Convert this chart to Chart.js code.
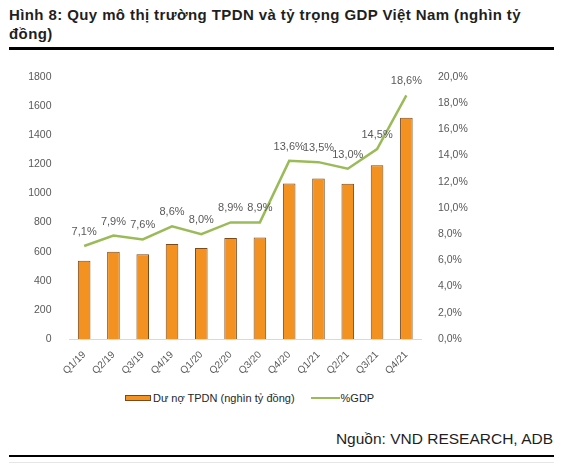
<!DOCTYPE html>
<html>
<head>
<meta charset="utf-8">
<script src="https://cdn.jsdelivr.net/npm/chart.js@4"></script>
<style>
  body { margin: 0; background: #fff; font-family: "Liberation Sans", Arial, sans-serif; }
  #page { position: relative; width: 565px; height: 469px; overflow: hidden; }
  #title { position: absolute; left: 9px; top: 6px; width: 550px; font-weight: bold; font-size: 15px; letter-spacing: 0.4px; line-height: 18.5px; color: #1f1f1f; }
  #rule1 { position: absolute; left: 9px; top: 47px; width: 545px; height: 3px; background: #000; }
  #box { position: absolute; left: 0; top: 55px; width: 565px; height: 330px; }
  #legend { position: absolute; top: 391px; left: 125px; height: 14px; font-size: 11px; color: #262626; display: flex; align-items: center; }
  .sw-bar { width: 24px; height: 4px; background: #f39220; border: 1px solid #7a4a1c; margin-right: 2px; }
  .sw-line { width: 29px; height: 2px; background: #9bbb59; margin-left: 16px; margin-right: 1px; }
  #source { position: absolute; right: 12px; top: 430px; font-size: 15.5px; color: #1f1f1f; }
  #rule2 { position: absolute; left: 9px; top: 455px; width: 545px; height: 1.5px; background: #000; }
  #rule3 { position: absolute; left: 9px; top: 462px; width: 545px; height: 1px; background: #e6e6e6; }
</style>
</head>
<body>
<div id="page">
  <div id="title">Hình 8: Quy mô thị trường TPDN và tỷ trọng GDP Việt Nam (nghìn tỷ<br>đồng)</div>
  <div id="rule1"></div>
  <div id="box"><canvas id="chart"></canvas></div>
  <div id="legend">
    <span class="sw-bar"></span><span>Dư nợ TPDN (nghìn tỷ đồng)</span>
    <span class="sw-line"></span><span>%GDP</span>
  </div>
  <div id="source">Nguồn: VND RESEARCH, ADB</div>
  <div id="rule2"></div>
  <div id="rule3"></div>
</div>
<script>
  'use strict'

  var quarters = ['Q1/19', 'Q2/19', 'Q3/19', 'Q4/19', 'Q1/20', 'Q2/20', 'Q3/20', 'Q4/20', 'Q1/21', 'Q2/21', 'Q3/21', 'Q4/21']
  var duNo = [538, 600, 582, 652, 625, 694, 698, 1069, 1103, 1067, 1193, 1520]
  var gdpPct = [7.1, 7.9, 7.6, 8.6, 8.0, 8.9, 8.9, 13.6, 13.5, 13.0, 14.5, 18.6]

  var grey = '#595959'
  var tickFont = { family: '"Liberation Sans", Arial, sans-serif', size: 10.5 }

  function pct (v, digits) {
    return v.toFixed(digits).replace('.', ',') + '%'
  }

  // labels over the %GDP line
  var lineLabels = {
    id: 'lineLabels',
    afterDatasetsDraw: function (chart) {
      var meta = chart.getDatasetMeta(1)
      var ctx = chart.ctx
      ctx.save()
      ctx.font = '11px "Liberation Sans", Arial, sans-serif'
      ctx.fillStyle = grey
      ctx.textAlign = 'center'
      ctx.textBaseline = 'middle'
      meta.data.forEach(function (pt, i) {
        ctx.fillText(pct(gdpPct[i], 1), pt.x, pt.y - 14)
      })
      ctx.restore()
    }
  }

  var ctx = document.getElementById('chart')

  var data = {
    labels: quarters,
    datasets: [{
      type: 'bar',
      label: 'Dư nợ TPDN (nghìn tỷ đồng)',
      data: duNo,
      yAxisID: 'y',
      backgroundColor: '#f39220',
      borderColor: '#7a4a1c',
      borderWidth: 1,
      categoryPercentage: 1,
      barPercentage: 0.43,
      order: 2
    }, {
      type: 'line',
      label: '%GDP',
      data: gdpPct,
      yAxisID: 'y1',
      borderColor: '#9bbb59',
      borderWidth: 2.5,
      pointRadius: 0,
      tension: 0,
      order: 1
    }]
  }

  var options = {
    responsive: true,
    maintainAspectRatio: false,
    animation: false,
    layout: { padding: { top: 22, left: 0, right: 0, bottom: 0 } },
    plugins: {
      legend: { display: false },
      tooltip: { enabled: false }
    },
    scales: {
      x: {
        grid: { display: false },
        border: { color: '#d9d9d9', width: 1 },
        ticks: { color: grey, font: { family: tickFont.family, size: 10 }, minRotation: 45, maxRotation: 45, padding: 2 },
        afterFit: function (s) { s.height = 46 }
      },
      y: {
        position: 'left',
        min: 0,
        max: 1800,
        grid: { display: false },
        border: { display: false },
        ticks: { stepSize: 200, color: grey, font: tickFont, padding: 10, callback: function (v) { return String(v) } },
        afterFit: function (s) { s.width = 69.5 }
      },
      y1: {
        position: 'right',
        min: 0,
        max: 20,
        grid: { display: false },
        border: { display: false },
        ticks: { stepSize: 2, color: grey, font: tickFont, padding: 9, callback: function (v) { return pct(v, 1) } },
        afterFit: function (s) { s.width = 144 }
      }
    }
  }

  var config = {
    data: data,
    options: options,
    plugins: [lineLabels]
  }

  var myChart = new Chart(ctx, config)
</script>
</body>
</html>
